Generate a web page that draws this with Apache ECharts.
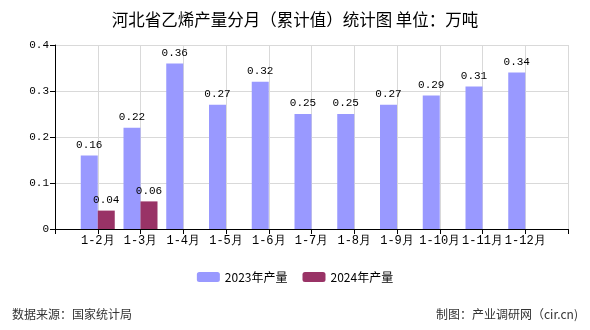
<!DOCTYPE html>
<html>
<head>
<meta charset="utf-8">
<script src="https://cdn.jsdelivr.net/npm/echarts@6/dist/echarts.min.js"></script>
<style>html,body{margin:0;padding:0;background:#fff;}#c{width:590px;height:330px;}</style>
</head>
<body>
<div id="c"></div>
<script>
const categories = ["1-2月","1-3月","1-4月","1-5月","1-6月","1-7月","1-8月","1-9月","1-10月","1-11月","1-12月"];
const values2023 = [0.16,0.22,0.36,0.27,0.32,0.25,0.25,0.27,0.29,0.31,0.34];
const values2024 = [0.04,0.06];
const yTicks = [0,0.1,0.2,0.3,0.4];
const seriesNames = ["2023年产量","2024年产量"];

// pad with an empty slot at each end so the axis runs from the y-axis to the right edge
const axisCats = [""].concat(categories, [""]);
function pad(arr){ const out = ["-"]; for (let i=0;i<categories.length;i++) out.push(i<arr.length?arr[i]:"-"); out.push("-"); return out; }

const mono = "'Liberation Mono', 'DejaVu Sans Mono', monospace";
const cjk = "'Noto Sans CJK SC', sans-serif";
const chart = echarts.init(document.getElementById('c'), null, {renderer:'canvas'});
const labelCfg = {show:true, position:'top', color:'#000', fontSize:11, fontFamily:mono, distance:5,
  textBorderWidth:0, textBorderColor:'transparent'};
chart.setOption({
  animation:false,
  backgroundColor:'#fff',
  title:{text:'河北省乙烯产量分月（累计值）统计图 单位：万吨', left:'center', top:6,
    textStyle:{fontSize:16.5, fontWeight:'normal', color:'#000', fontFamily:cjk}},
  legend:{bottom:42, left:'center', itemWidth:23, itemHeight:10, itemGap:15,
    textStyle:{fontSize:12, color:'#000', fontFamily:cjk},
    data:seriesNames},
  graphic:[
    {type:'text', left:12, top:308, style:{text:'数据来源：国家统计局', fontSize:12, fill:'#333', fontFamily:cjk}},
    {type:'text', right:12, top:308, style:{text:'制图：产业调研网（cir.cn)', fontSize:12, fill:'#333', fontFamily:cjk}}
  ],
  grid:{left:55, right:22, top:45, bottom:101, containLabel:false},
  xAxis:{type:'category', data:axisCats, boundaryGap:false,
    axisLine:{lineStyle:{color:'#000', width:1}},
    axisTick:{show:true, length:5, lineStyle:{color:'#000'}},
    axisLabel:{interval:0, color:'#000', fontSize:12, fontFamily:mono, margin:6},
    splitLine:{show:true, lineStyle:{color:'#d9d9d9'}}},
  yAxis:{type:'value', min:yTicks[0], max:yTicks[yTicks.length-1], interval:0.1,
    axisLine:{show:true, lineStyle:{color:'#000'}},
    axisTick:{show:true, length:5, lineStyle:{color:'#000'}},
    axisLabel:{color:'#000', fontSize:11, fontFamily:mono, margin:6},
    splitLine:{show:true, lineStyle:{color:'#d9d9d9'}}},
  series:[
    {name:seriesNames[0], type:'bar', data:pad(values2023), barWidth:17, barGap:'0%',
      itemStyle:{color:'#9999ff'}, label:labelCfg},
    {name:seriesNames[1], type:'bar', data:pad(values2024), barWidth:17, barGap:'0%',
      itemStyle:{color:'#993366'}, label:labelCfg}
  ]
});
</script>
</body>
</html>
